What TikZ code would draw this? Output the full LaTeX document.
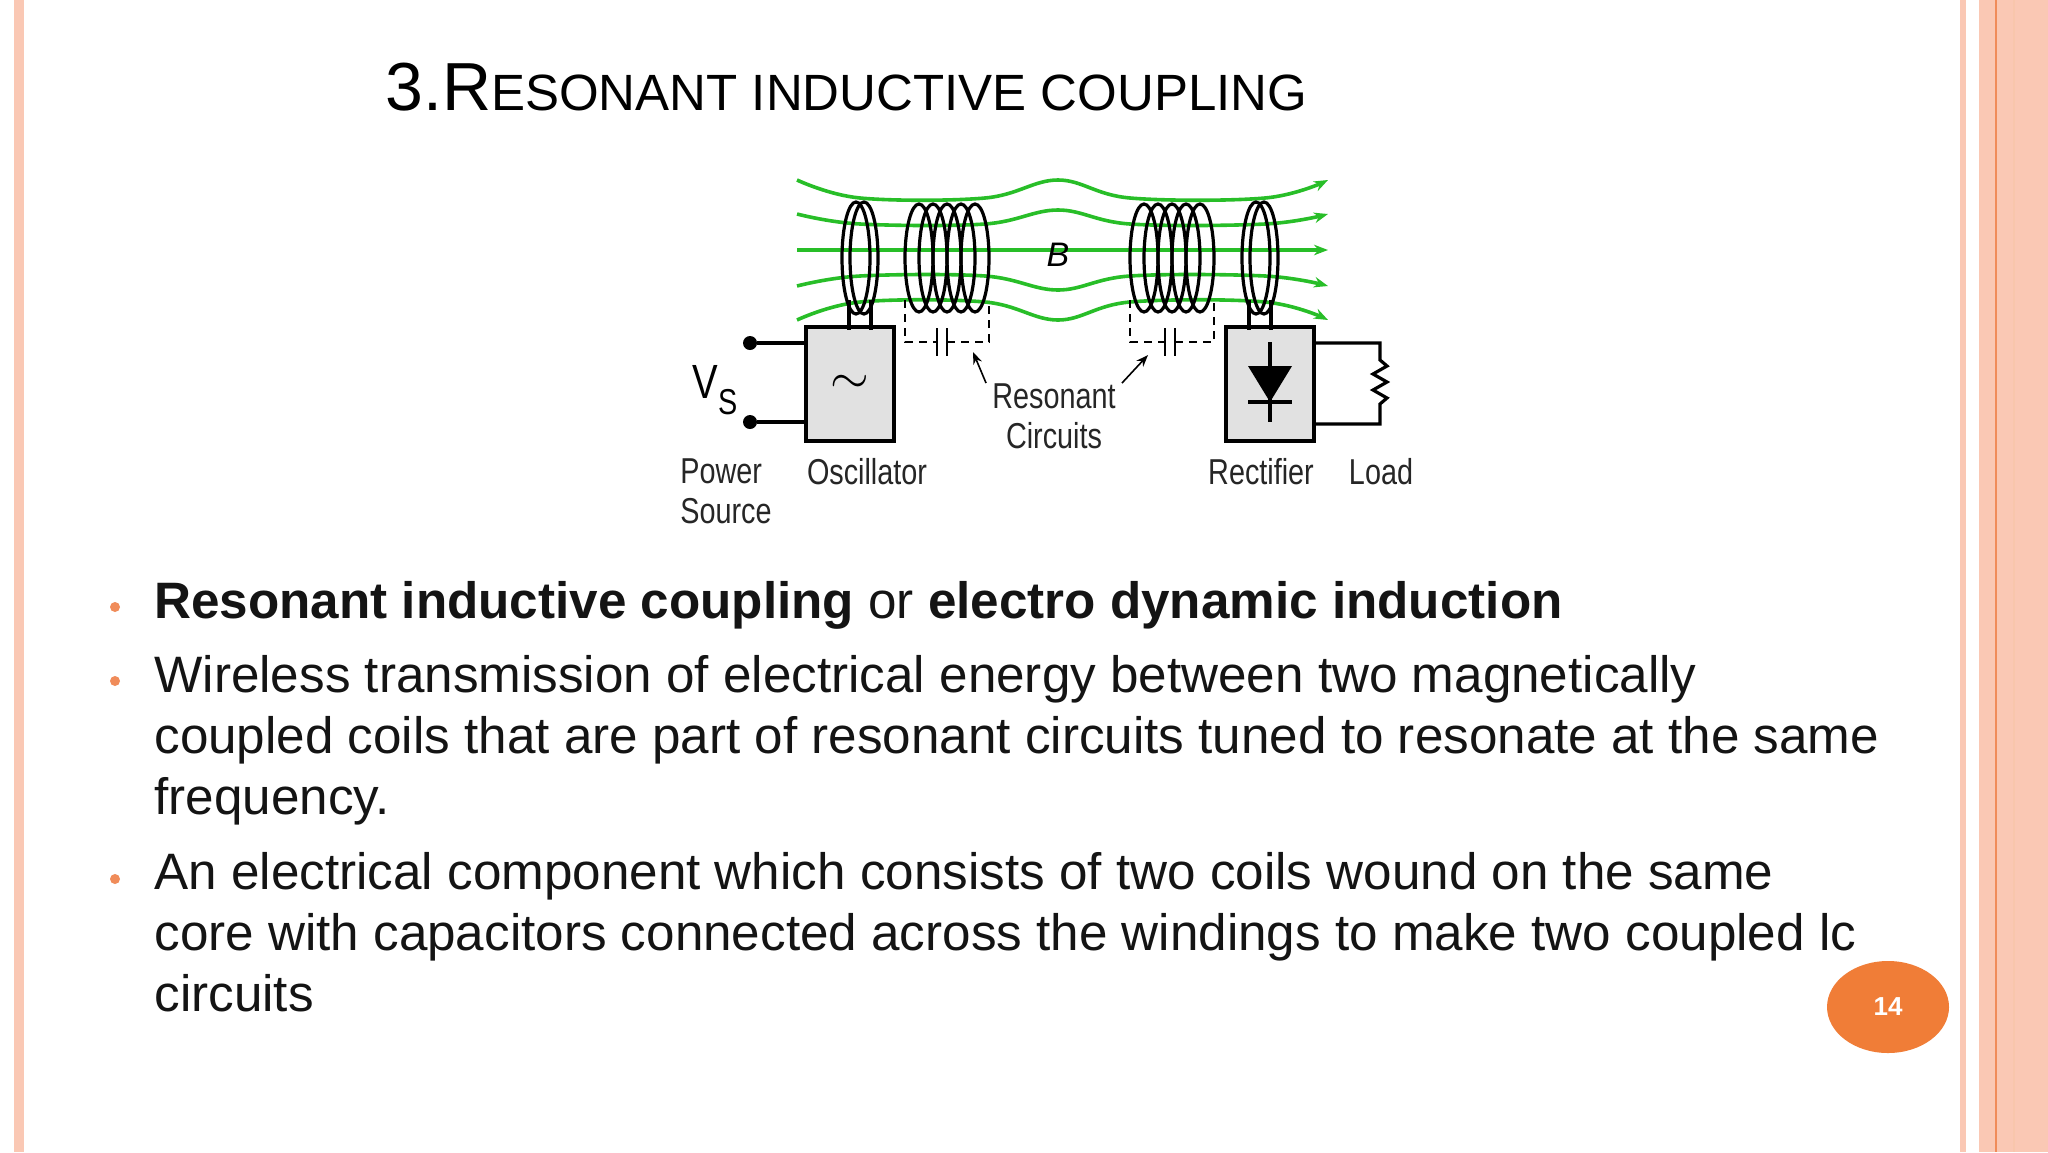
\documentclass[tikz,border=0pt]{standalone}
\usepackage{fontspec}
\setmainfont{Liberation Sans}
\usetikzlibrary{arrows.meta,shapes.geometric}
\definecolor{pinkband}{RGB}{250,200,180}
\definecolor{orangeline}{RGB}{240,140,90}
\definecolor{badge}{RGB}{240,125,55}
\definecolor{field}{RGB}{40,190,40}
\definecolor{boxfill}{RGB}{225,225,225}
\definecolor{bodytext}{RGB}{20,20,20}
\tikzset{
  coilline/.style={line width=1.6pt},
  wire/.style={line width=1.6pt},
  dashwire/.style={line width=1.2pt, dash pattern=on 4pt off 3pt},
  fieldline/.style={field, line width=1.8pt, -{Stealth[length=7pt]}},
  block/.style={draw, line width=2pt, fill=boxfill, minimum width=44pt, minimum height=57pt, inner sep=0pt},
  lbl/.style={font=\fontsize{18}{20}\selectfont, xscale=0.8, text=black!85, align=left, inner sep=0pt},
  bullettext/.style={anchor=base west, inner sep=0pt, text=bodytext, font=\fontsize{25.6}{30.5}\selectfont},
  dot/.style={circle, fill=orangeline, inner sep=0pt, minimum size=5pt}
}
\begin{document}
\begin{tikzpicture}[x=0.5pt,y=-0.5pt]
  % background and side bands
  \fill[white] (0,0) rectangle (2048,1152);
  \useasboundingbox (0,0) rectangle (2048,1152);
  \fill[pinkband] (14,0) rectangle (24,1152);
  \fill[pinkband] (1960,0) rectangle (1966,1152);
  \fill[pinkband] (1979,0) rectangle (2048,1152);
  \draw[orangeline, line width=1pt] (1996,0) -- (1996,1152);
  \draw[orangeline!50, line width=1pt] (2014,0) -- (2014,1152);

  % title
  \node[anchor=base west, inner sep=0pt, font=\fontsize{34}{40}\selectfont] (title) at (385,110)
    {3.R\fontsize{25.5}{30}\selectfont ESONANT INDUCTIVE COUPLING};

  % field lines
  \foreach \k/\e/\m in {-2/-70/-70, -1/-36/-40, 0/0/0, 1/36/40, 2/70/70}{
    \draw[fieldline] plot[smooth, tension=0.6] coordinates
      {(797,250+\e) (860,250+\k*26) (985,250+\k*26) (1058,250+\m) (1130,250+\k*26) (1265,250+\k*26) (1328,250+\e)};
  }
  \node[font=\itshape\fontsize{17}{20}\selectfont] (bfield) at (1058,255) {B};

  % blocks
  \node[block] (osc) at (850,384) {\fontsize{36}{36}\selectfont$\sim$};
  \node[block] (rect) at (1270,384) {};
  \fill (1248,366) -- (1292,366) -- (1270,402) -- cycle;
  \draw[wire] (1248,402) -- (1292,402);
  \draw[wire] (1270,342) -- (1270,422);

  % drive and pick-up loops
  \foreach \cx/\bx in {860/osc, 1260/rect}{
    \draw[coilline] (\cx-4,258) ellipse (7pt and 28pt);
    \draw[coilline] (\cx+4,258) ellipse (7pt and 28pt);
    \draw[wire] (\cx-11,300) -- (\cx-11,330);
    \draw[wire] (\cx+11,300) -- (\cx+11,330);
  }

  % resonant coils with capacitors
  \foreach \sx/\cap in {905/942, 1130/1170}{
    \foreach \i in {0,...,4}
      \draw[coilline] (\sx+14+\i*14,258) ellipse (7pt and 27pt);
    \draw[dashwire] (\sx,300) -- (\sx,342) -- (\cap-5,342);
    \draw[dashwire] (\cap+5,342) -- (\sx+84,342) -- (\sx+84,300);
    \draw[line width=1.4pt] (\cap-5,328) -- (\cap-5,356) (\cap+5,328) -- (\cap+5,356);
  }

  % source terminals
  \node[circle, fill, inner sep=0pt, minimum size=7pt] (tpa) at (750,343) {};
  \node[circle, fill, inner sep=0pt, minimum size=7pt] (tpb) at (750,422) {};
  \draw[wire] (tpa) -- (tpa -| osc.west);
  \draw[wire] (tpb) -- (tpb -| osc.west);
  \node[font=\fontsize{24}{24}\selectfont, xscale=0.8] (vs) at (715,390) {V\raisebox{-8pt}{\fontsize{18}{18}\selectfont S}};

  % load
  \coordinate (la) at (1380,343);
  \coordinate (lb) at (1380,424);
  \draw[wire] (rect.east |- la) -- (la) -- (1380,360) -- (1387,366) -- (1373,374) -- (1387,382) -- (1373,390) -- (1387,398) -- (1380,404) -- (lb) -- (rect.east |- lb);

  % labels
  \node[lbl, anchor=north west] (power) at (680,458) {Power\\Source};
  \node[lbl, anchor=north] (osclbl) at (867,458) {Oscillator};
  \node[lbl, anchor=north] (rectlbl) at (1261,458) {Rectifier};
  \node[lbl, anchor=north] (loadlbl) at (1381,458) {Load};
  \node[lbl, align=center] (reslbl) at (1054,416) {Resonant\\Circuits};
  \draw[-{Stealth[length=6pt]}, line width=0.8pt] (reslbl.north west) ++(-6,0) coordinate (ra) (ra) -- (973,352);
  \draw[-{Stealth[length=6pt]}, line width=0.8pt] (reslbl.north east) ++(6,0) coordinate (rb) (rb) -- (1148,355);

  % bullets
  \foreach \yy in {607,681,879}
    \node[dot] at (115,\yy) {};
  \node[bullettext] (ba) at (154,618) {\textbf{Resonant inductive coupling} or \textbf{electro dynamic induction}};
  \node[bullettext] (bb) at (154,692) {Wireless transmission of electrical energy between two magnetically};
  \node[bullettext] (bc) at (154,753) {coupled coils that are part of resonant circuits tuned to resonate at the same};
  \node[bullettext] (bd) at (154,814) {frequency.};
  \node[bullettext] (be) at (154,889) {An electrical component which consists of two coils wound on the same};
  \node[bullettext] (bf) at (154,950) {core with capacitors connected across the windings to make two coupled lc};
  \node[bullettext] (bg) at (154,1011) {circuits};

  % page number
  \node[ellipse, fill=badge, minimum width=61pt, minimum height=46pt, inner sep=0pt, text=white, font=\bfseries\fontsize{13}{15}\selectfont] (page) at (1888,1007) {14};
\end{tikzpicture}
\end{document}
